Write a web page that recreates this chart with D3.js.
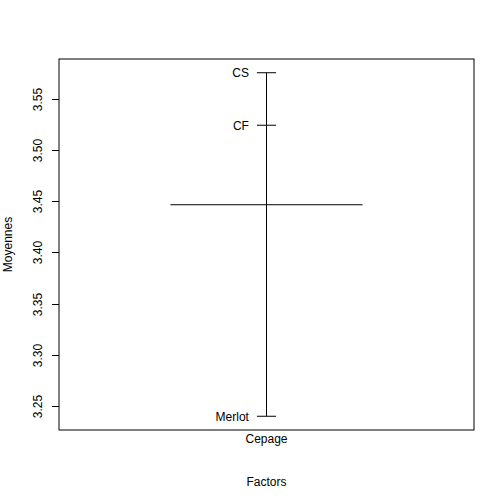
<!DOCTYPE html>
<html><head><meta charset="utf-8">
<script src="https://cdn.jsdelivr.net/npm/d3@7"></script>
<style>body{margin:0;background:#fff}svg{display:block}text{font-family:"Liberation Sans",Arial,sans-serif;font-size:12px;fill:#000}</style>
</head><body>
<script>
const factorName = "Cepage";
const levels = ["CS", "CF", "Merlot"];
const means = [3.5753, 3.5241, 3.2403];
const yTicks = [3.25, 3.30, 3.35, 3.40, 3.45, 3.50, 3.55];
const xLabel = "Factors";
const yLabel = "Moyennes";

const W = 504, H = 504;
const L = 59, R = 474, T = 59, B = 430;
const svg = d3.select("body").append("svg").attr("width", W).attr("height", H);

const grand = d3.mean(means);
const lo = d3.min(means), hi = d3.max(means);
const pad = (hi - lo) * 0.04;
const y = d3.scaleLinear().domain([lo - pad, hi + pad]).range([B, T]);
const x = d3.scaleLinear().domain([0.46, 1.54]).range([L, R]);

svg.append("rect").attr("x", L).attr("y", T).attr("width", R - L).attr("height", B - T)
  .attr("fill", "none").attr("stroke", "#000").attr("stroke-width", 1);

// y axis
const ax = svg.append("g");
yTicks.forEach(v => {
  const yy = Math.round(y(v)) + 0.5;
  ax.append("line").attr("x1", L - 7).attr("x2", L).attr("y1", yy).attr("y2", yy).attr("stroke", "#000");
  ax.append("text").attr("transform", `translate(${L - 17},${yy}) rotate(-90)`)
    .attr("text-anchor", "middle").text(v.toFixed(2));
});

// vertical line
svg.append("line").attr("x1", x(1)).attr("x2", x(1)).attr("y1", y(lo)).attr("y2", y(hi)).attr("stroke", "#000");
// mean line
svg.append("line").attr("x1", x(0.75)).attr("x2", x(1.25)).attr("y1", y(grand)).attr("y2", y(grand)).attr("stroke", "#000");
// level ticks and labels
levels.forEach((lv, i) => {
  svg.append("line").attr("x1", x(0.975)).attr("x2", x(1.025)).attr("y1", y(means[i])).attr("y2", y(means[i])).attr("stroke", "#000");
  svg.append("text").attr("x", x(0.975) - 8).attr("y", y(means[i]) + 4.5).attr("text-anchor", "end").text(lv);
});

svg.append("text").attr("x", x(1)).attr("y", B + 13).attr("text-anchor", "middle").text(factorName);
svg.append("text").attr("x", (L + R) / 2).attr("y", 486).attr("text-anchor", "middle").text(xLabel);
svg.append("text").attr("transform", `translate(12,${(T + B) / 2}) rotate(-90)`).attr("text-anchor", "middle").text(yLabel);
</script>
</body></html>
